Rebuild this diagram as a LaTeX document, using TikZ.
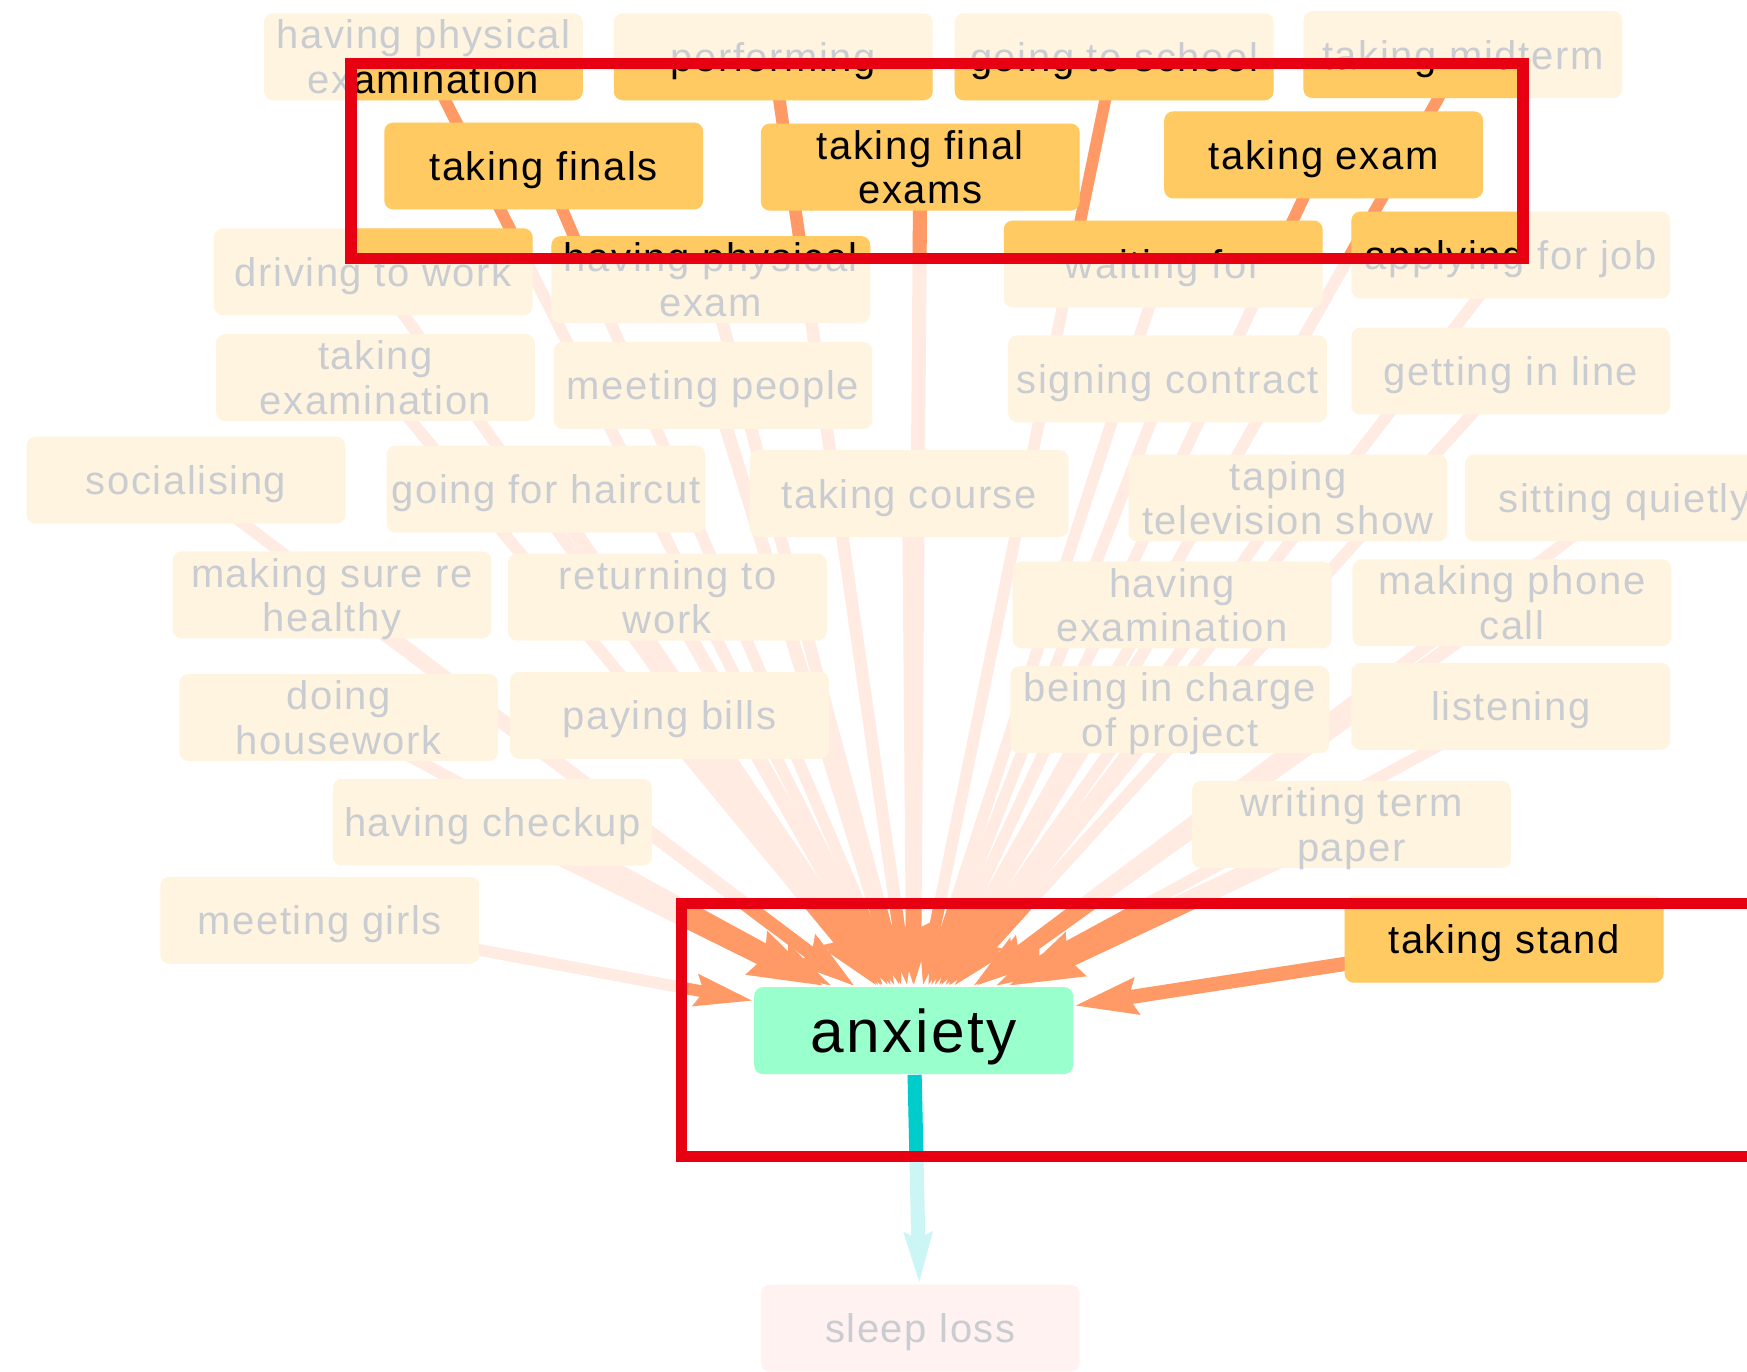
\documentclass[tikz,border=0pt]{standalone}
\usepackage{fontspec}
\setmainfont{Liberation Sans}[LetterSpace=4]
\usetikzlibrary{arrows.meta}
\definecolor{causefull}{HTML}{FFCA62}
\definecolor{causefaint}{HTML}{FFF4E0}
\definecolor{linkfull}{HTML}{FF9A66}
\definecolor{linkfaint}{HTML}{FFEBE1}
\definecolor{anxfull}{HTML}{99FFCC}
\definecolor{anxfaint}{HTML}{EBFFF5}
\definecolor{flowfull}{HTML}{00CCCC}
\definecolor{flowfaint}{HTML}{CCF5F5}
\definecolor{effectfull}{HTML}{FFBFB3}
\definecolor{effectfaint}{HTML}{FFF2F0}
\definecolor{labelfaint}{HTML}{C9CCD1}
\definecolor{spot}{HTML}{E60012}
\colorlet{causefill}{causefull}
\colorlet{linkcol}{linkfull}
\colorlet{anxfill}{anxfull}
\colorlet{flowcol}{flowfull}
\colorlet{effectfill}{effectfull}
\colorlet{labelcol}{black}
\tikzstyle{box}=[rectangle, rounded corners=0.08cm, minimum width=2.86cm,
		minimum height=0.78cm, inner sep=0, align=center, text depth=0pt,
		font=\fontsize{10.2}{11.4}\selectfont]
\tikzstyle{cause}=[box, fill=causefill, text=labelcol]
\tikzstyle{anx}=[box, fill=anxfill, text=labelcol, font=\fontsize{15.4}{18}\selectfont]
\tikzstyle{effect}=[box, fill=effectfill, text=labelcol]
\tikzstyle{link}=[draw=linkcol, -{Stealth[length=0.3cm 2, width=0.08cm 1.8, inset=0.06cm]}]
\tikzstyle{flow}=[draw=flowcol, line width=3.6pt,
		-{Stealth[length=0.45cm, width=0.24cm, inset=0.05cm]}]
\tikzstyle{spotlight}=[draw=spot, line width=0.1cm]

\newcommand{\causalnet}{%
        \coordinate (hpexn) at (380,51);
        \coordinate (perf) at (694,51);
        \coordinate (school) at (1000,51);
        \coordinate (midterm) at (1313,49);
        \coordinate (finals) at (488,149);
        \coordinate (finalex) at (826,150);
        \coordinate (exam) at (1188,139);
        \coordinate (drive) at (335,244);
        \coordinate (hpexm) at (638,251);
        \coordinate (wait) at (1044,237);
        \coordinate (apply) at (1356,229);
        \coordinate (texam) at (337,339);
        \coordinate (meetp) at (640,346);
        \coordinate (sign) at (1048,340);
        \coordinate (queue) at (1356,333);
        \coordinate (social) at (167,431);
        \coordinate (hair) at (490,439);
        \coordinate (course) at (816,443);
        \coordinate (taping) at (1156,447);
        \coordinate (sit) at (1458,447);
        \coordinate (healthy) at (298,534);
        \coordinate (return) at (599,536);
        \coordinate (hexam) at (1052,543);
        \coordinate (phone) at (1357,541);
        \coordinate (house) at (304,644);
        \coordinate (bills) at (601,642);
        \coordinate (charge) at (1050,637);
        \coordinate (listen) at (1356,634);
        \coordinate (checkup) at (442,738);
        \coordinate (paper) at (1213,740);
        \coordinate (girls) at (287,826);
        \coordinate (stand) at (1350,843);
        \node[anx] (anxiety) at (820,925) {anxiety};
        \node[effect] (sleep) at (826,1192) {sleep loss};
        \foreach \c/\w in {hpexn/3, perf/3.2, school/3, midterm/3, finals/3,
                finalex/3.6, exam/3, drive/3, hpexm/3.2, wait/3, apply/3,
                texam/3, meetp/3.4, sign/3, queue/3, social/3, hair/3.6,
                course/3.6, taping/3, sit/3, healthy/3.4, return/3.6,
                hexam/3, phone/3.4, house/3, bills/4, charge/3.4, listen/3,
                checkup/5, paper/5, girls/3, stand/3.6}
            \draw[link, line width=\w pt] (\c) -- (anxiety);
        \draw[flow] (anxiety) -- (sleep);
        \node[cause] (n-hpexn) at (hpexn) {having physical\\examination};
        \node[cause] (n-perf) at (perf) {performing};
        \node[cause] (n-school) at (school) {going to school};
        \node[cause] (n-midterm) at (midterm) {taking midterm};
        \node[cause] (n-finals) at (finals) {taking finals};
        \node[cause] (n-finalex) at (finalex) {taking final\\exams};
        \node[cause] (n-exam) at (exam) {taking exam};
        \node[cause] (n-drive) at (drive) {driving to work};
        \node[cause] (n-hpexm) at (hpexm) {having physical\\exam};
        \node[cause] (n-wait) at (wait) {waiting for};
        \node[cause] (n-apply) at (apply) {applying for job};
        \node[cause] (n-texam) at (texam) {taking\\examination};
        \node[cause] (n-meetp) at (meetp) {meeting people};
        \node[cause] (n-sign) at (sign) {signing contract};
        \node[cause] (n-queue) at (queue) {getting in line};
        \node[cause] (n-social) at (social) {socialising};
        \node[cause] (n-hair) at (hair) {going for haircut};
        \node[cause] (n-course) at (course) {taking course};
        \node[cause] (n-taping) at (taping) {taping\\television show};
        \node[cause] (n-sit) at (sit) {sitting quietly};
        \node[cause] (n-healthy) at (healthy) {making sure re\\healthy};
        \node[cause] (n-return) at (return) {returning to\\work};
        \node[cause] (n-hexam) at (hexam) {having\\examination};
        \node[cause] (n-phone) at (phone) {making phone\\call};
        \node[cause] (n-house) at (house) {doing\\housework};
        \node[cause] (n-bills) at (bills) {paying bills};
        \node[cause] (n-charge) at (charge) {being in charge\\of project};
        \node[cause] (n-listen) at (listen) {listening};
        \node[cause] (n-checkup) at (checkup) {having checkup};
        \node[cause] (n-paper) at (paper) {writing term\\paper};
        \node[cause] (n-girls) at (girls) {meeting girls};
        \node[cause] (n-stand) at (stand) {taking stand};
}

\begin{document}
\begin{tikzpicture}[x=0.01cm, y=-0.01cm]
        \clip (0,0) rectangle (1568,1231);
        \begin{scope}
            \colorlet{causefill}{causefaint}
            \colorlet{linkcol}{linkfaint}
            \colorlet{anxfill}{anxfaint}
            \colorlet{flowcol}{flowfaint}
            \colorlet{effectfill}{effectfaint}
            \colorlet{labelcol}{labelfaint}
            \causalnet
        \end{scope}
        \begin{scope}
            \clip (315,57) rectangle (1367,232) (612,811) rectangle (1600,1038);
            \causalnet
        \end{scope}
        \draw[spotlight] (315,57) rectangle (1367,232);
        \draw[spotlight] (612,811) rectangle (1600,1038);
\end{tikzpicture}
\end{document}
